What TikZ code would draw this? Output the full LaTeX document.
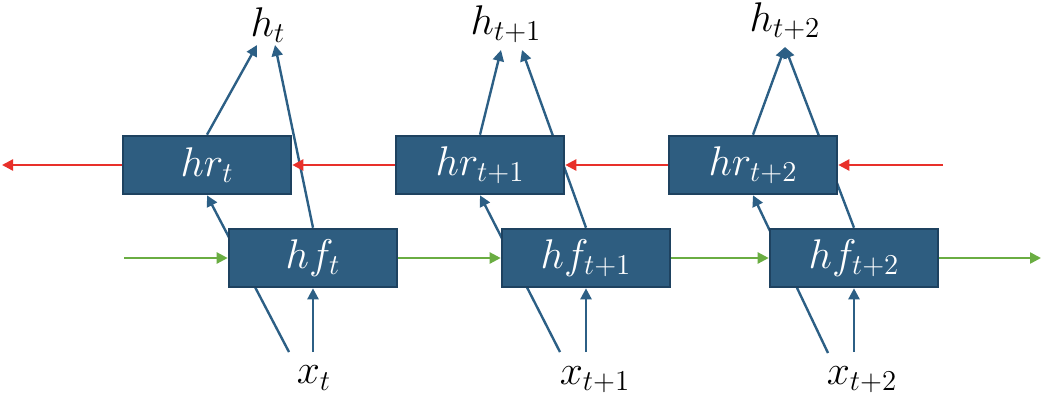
\documentclass[tikz,border=0pt]{standalone}
\usepackage{amsmath,amssymb}
\usepackage{xcolor}
\usepackage{tikz}
\usetikzlibrary{arrows.meta, backgrounds, positioning}
\definecolor{cellFill}{HTML}{2E5D80}
\definecolor{cellEdge}{HTML}{1E4260}
\definecolor{linkBlue}{HTML}{2C5F85}
\definecolor{fwdGreen}{HTML}{6AAD42}
\definecolor{bwdRed}{HTML}{E8302A}
\DeclareMathSizes{20.74}{20.74}{14.4}{10}

\begin{document}
\begin{tikzpicture}[x=0.5pt, y=-0.5pt, every node/.style={font=\fontsize{20.74}{24}\selectfont},
  cell/.style={rectangle, draw=cellEdge, line width=1.3pt, fill=cellFill, text=white,
    minimum width=84pt, minimum height=29pt, inner sep=0pt, font=\fontsize{20.74}{24}\selectfont},
  link/.style={draw=linkBlue, line width=1.2pt, -{Triangle[length=5.5pt, width=5.5pt]}},
  fwd/.style={draw=fwdGreen, line width=1.2pt, -{Triangle[length=5.5pt, width=5.5pt]}},
  bwd/.style={draw=bwdRed, line width=1.2pt, -{Triangle[length=5.5pt, width=5.5pt]}}]
\useasboundingbox (0,0) rectangle (1044,409);
% cells: backward row on top, forward row below
\node[cell] (hr1) at (207,165) {$hr_t$};
\node[cell] (hf1) at (313,258) {$hf_t$};
\node[cell] (hr2) at (480,165) {$hr_{t+1}$};
\node[cell] (hf2) at (586,258) {$hf_{t+1}$};
\node[cell] (hr3) at (753,165) {$hr_{t+2}$};
\node[cell] (hf3) at (854,258) {$hf_{t+2}$};

% outputs and inputs
\node (h1) at (268,25) {$h_t$};
\node (h2) at (506,24) {$h_{t+1}$};
\node (h3) at (785,21) {$h_{t+2}$};
\node (x1) at (314,378) {$x_t$};
\node (x2) at (595,380) {$x_{t+1}$};
\node (x3) at (862,380) {$x_{t+2}$};

% free ends
\coordinate (up1a) at (257,45);
\coordinate (up1b) at (275,45);
\coordinate (up2a) at (501,50);
\coordinate (up2b) at (522,50);
\coordinate (up3) at (785,47);
\coordinate (in1a) at (289,352);
\coordinate (in1b) at (313,352);
\coordinate (in2a) at (560,352);
\coordinate (in2b) at (586,352);
\coordinate (in3a) at (828,353);
\coordinate (in3b) at (854,352);
\coordinate (fwdIn) at (124,258);
\coordinate (fwdOut) at (1041,258);
\coordinate (bwdIn) at (943,165);
\coordinate (bwdOut) at (2,165);

\begin{scope}[on background layer]
% step t
\draw[link] (hr1.north) -- (up1a);
\draw[link] (hf1.north) -- (up1b);
\draw[link] (in1a) -- (hr1.south);
\draw[link] (in1b) -- (hf1.south);
% step t+1
\draw[link] (hr2.north) -- (up2a);
\draw[link] (hf2.north) -- (up2b);
\draw[link] (in2a) -- (hr2.south);
\draw[link] (in2b) -- (hf2.south);
% step t+2
\draw[link] (hr3.north) -- (up3);
\draw[link] (hf3.north) -- (up3);
\draw[link] (in3a) -- (hr3.south);
\draw[link] (in3b) -- (hf3.south);
\end{scope}

% forward chain
\draw[fwd] (fwdIn) -- (hf1.west);
\draw[fwd] (hf1.east) -- (hf2.west);
\draw[fwd] (hf2.east) -- (hf3.west);
\draw[fwd] (hf3.east) -- (fwdOut);
% backward chain
\draw[bwd] (bwdIn) -- (hr3.east);
\draw[bwd] (hr3.west) -- (hr2.east);
\draw[bwd] (hr2.west) -- (hr1.east);
\draw[bwd] (hr1.west) -- (bwdOut);
\end{tikzpicture}
\end{document}
